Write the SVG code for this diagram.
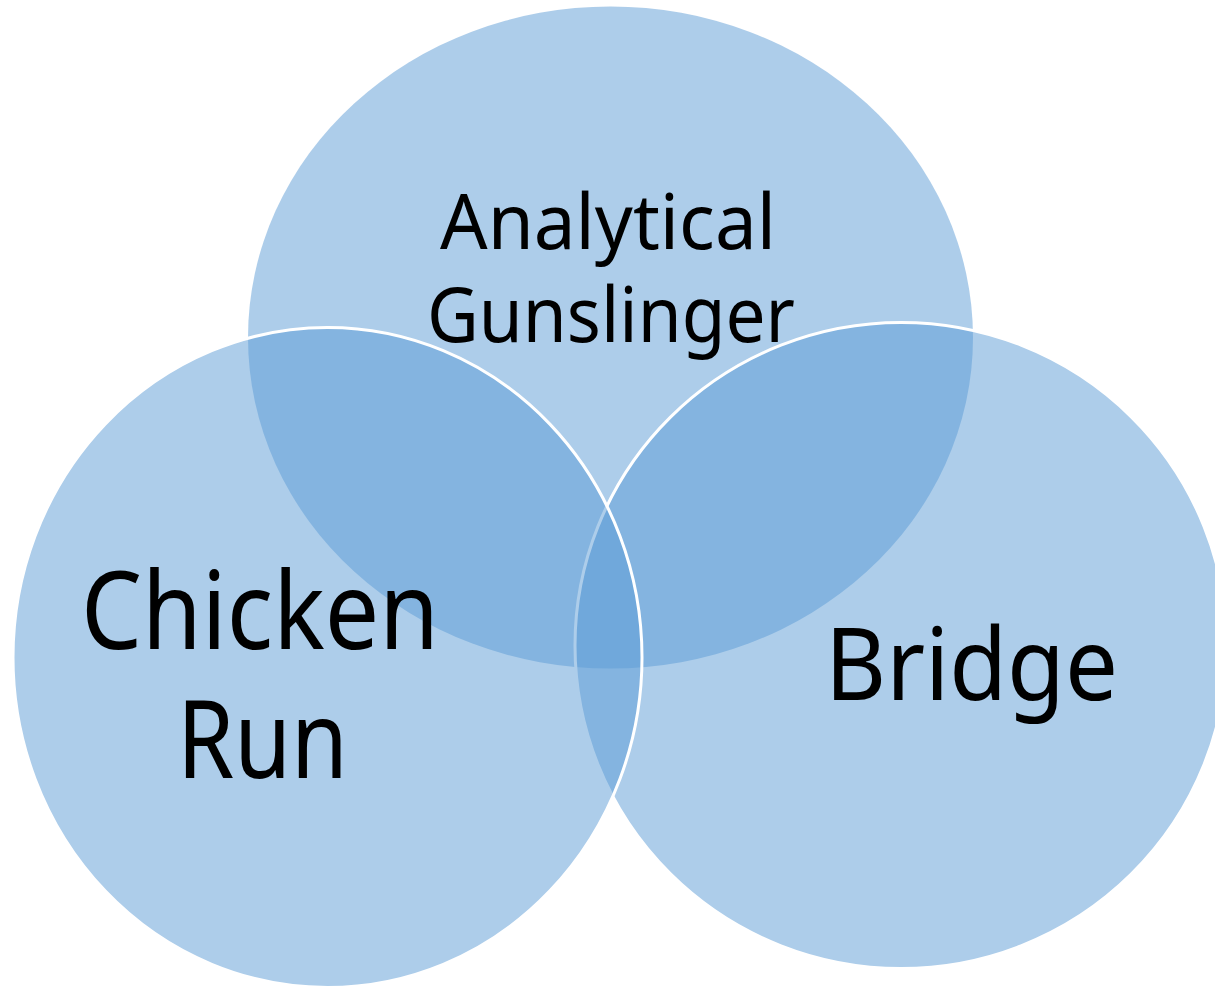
<svg xmlns="http://www.w3.org/2000/svg" width="1215" height="988" viewBox="0 0 1215 988">
<style>
.c{fill:#5B9BD5;fill-opacity:0.5;stroke:#FFFFFF;stroke-width:3}
.t{font-family:"Noto Sans","Open Sans",sans-serif;fill:#000000}
</style>
<rect width="1215" height="988" fill="#FFFFFF"/>
<g id="analytical-gunslinger">
<ellipse cx="610.5" cy="337.5" rx="362.5" ry="331" fill="#5B9BD5" fill-opacity="0.5"/>
<text class="t" x="440" y="249" font-size="76" textLength="336" lengthAdjust="spacingAndGlyphs">Analytical</text>
<text class="t" x="427" y="342" font-size="76" textLength="368" lengthAdjust="spacingAndGlyphs">Gunslinger</text>
</g>
<g id="bridge">
<ellipse class="c" cx="901" cy="645.5" rx="326" ry="323"/>
<text class="t" x="825" y="700" font-size="101" textLength="293" lengthAdjust="spacingAndGlyphs">Bridge</text>
</g>
<g id="chicken-run">
<ellipse class="c" cx="327.5" cy="657.5" rx="314.5" ry="330"/>
<text class="t" x="81" y="649" font-size="108" textLength="358" lengthAdjust="spacingAndGlyphs">Chicken</text>
<text class="t" x="177" y="778" font-size="108" textLength="171" lengthAdjust="spacingAndGlyphs">Run</text>
</g>
<g id="connectors"/>
</svg>
